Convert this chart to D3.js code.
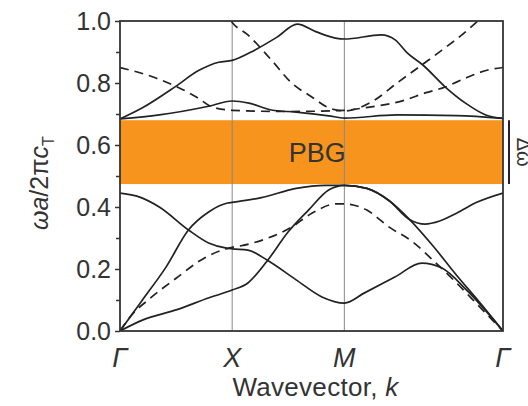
<!DOCTYPE html>
<html>
<head>
<meta charset="utf-8">
<script src="https://cdn.jsdelivr.net/npm/d3@7"></script>
<style>
    body { margin: 0; background: #fff; }
    text { font-family: "Liberation Sans", Arial, sans-serif; fill: #333; }
</style>
</head>
<body>
<div id="chart"></div>
<script>
// symmetry points along the path Γ → X → M → Γ
const kPoints = [0, 1, 2, 2 + Math.SQRT2];
const kLabels = ["Γ", "X", "M", "Γ"];

// y ticks
const majorTicks = [0, 0.2, 0.4, 0.6, 0.8, 1.0];
const minorTicks = [0.1, 0.3, 0.5, 0.7, 0.9];

// phononic band gap (normalized frequency)
const gapRange = [0.474, 0.68];

// solid bands, [k, ωa/2πc]
const bandLowest = [
    [0, 0], [0.2, 0.035], [0.5, 0.068], [0.8, 0.108], [1, 0.132],
    [1.14, 0.155], [1.31, 0.225], [1.5, 0.32], [1.68, 0.39], [1.86, 0.455], [2, 0.47],
    [2.2, 0.46], [2.4, 0.42], [2.58, 0.36], [2.8, 0.27], [3.0, 0.18], [3.2, 0.095], [3.414, 0]
];
const bandAcoustic2 = [
    [0, 0], [0.2, 0.10], [0.41, 0.206], [0.61, 0.326], [0.79, 0.384], [0.96, 0.413], [1, 0.415],
    [1.26, 0.43], [1.57, 0.46], [1.83, 0.47], [2, 0.47],
    [2.2, 0.46], [2.4, 0.42], [2.58, 0.36], [2.72, 0.345], [2.85, 0.355], [3.0, 0.38], [3.18, 0.415], [3.414, 0.445]
];
const bandOptical = [
    [0, 0.445], [0.15, 0.435], [0.35, 0.40], [0.61, 0.326], [0.79, 0.284], [0.94, 0.268], [1, 0.265],
    [1.14, 0.261], [1.31, 0.229], [1.57, 0.165], [1.8, 0.11], [2, 0.09],
    [2.18, 0.123], [2.45, 0.174], [2.69, 0.219], [2.87, 0.203], [3.09, 0.132], [3.414, 0]
];
const bandUpper1 = [
    [0, 0.684], [0.35, 0.697], [0.79, 0.725], [1, 0.742],
    [1.15, 0.735], [1.35, 0.713], [1.57, 0.706], [1.86, 0.694], [2, 0.687],
    [2.47, 0.697], [3.0, 0.695], [3.414, 0.686]
];
const bandUpper2 = [
    [0, 0.684], [0.2, 0.72], [0.5, 0.79], [0.7, 0.84], [0.88, 0.867], [1, 0.873],
    [1.2, 0.906], [1.4, 0.948], [1.58, 0.99], [1.75, 0.965], [1.92, 0.945], [2, 0.942],
    [2.33, 0.955], [2.45, 0.94], [2.56, 0.897], [2.7, 0.858], [2.9, 0.787], [3.08, 0.735], [3.26, 0.697], [3.414, 0.686]
];

// dashed bands
const dashedLow = [
    [0, 0], [0.1, 0.05], [0.25, 0.1], [0.5, 0.17], [0.75, 0.235], [1, 0.27],
    [1.08, 0.275], [1.32, 0.30], [1.53, 0.335], [1.71, 0.38], [1.93, 0.41], [2, 0.41],
    [2.2, 0.39], [2.4, 0.335], [2.6, 0.29], [2.8, 0.225], [3.0, 0.155], [3.2, 0.08], [3.414, 0]
];
const dashedUpperA = [
    [0, 0.85], [0.32, 0.816], [0.68, 0.755], [0.82, 0.723], [1, 0.712],
    [1.5, 0.708], [2, 0.712],
    [2.18, 0.72], [2.54, 0.745], [2.72, 0.768], [2.9, 0.787], [3.08, 0.816], [3.28, 0.842], [3.414, 0.85]
];
const dashedUpperB = [
    [0.92, 1.04], [1, 0.995],
    [1.14, 0.955], [1.35, 0.874], [1.53, 0.80], [1.71, 0.755], [1.86, 0.72], [2, 0.71],
    [2.27, 0.745], [2.47, 0.80], [2.69, 0.858], [2.87, 0.906], [3.08, 0.965], [3.19, 1.0], [3.414, 1.07]
];

const solidBands = [bandLowest, bandAcoustic2, bandOptical, bandUpper1, bandUpper2];
const dashedBands = [dashedLow, dashedUpperA, dashedUpperB];

let margin = { top: 21, right: 25, bottom: 75, left: 120 };
let width = 528 - margin.left - margin.right;
let height = 406 - margin.top - margin.bottom;

let svg = d3.select("#chart").append("svg")
    .attr("width", 528)
    .attr("height", 406);

let g = svg.append("g")
    .attr("transform", `translate(${margin.left}, ${margin.top})`);

let x = d3.scaleLinear()
    .domain([0, 2 + Math.SQRT2])
    .range([0, width]);

let y = d3.scaleLinear()
    .domain([0, 1])
    .range([height, 0]);

svg.append("defs").append("clipPath")
    .attr("id", "plotClip")
    .append("rect")
    .attr("width", width)
    .attr("height", height);

// band gap
g.append("rect")
    .attr("x", 0)
    .attr("y", y(gapRange[1]))
    .attr("width", width)
    .attr("height", y(gapRange[0]) - y(gapRange[1]))
    .attr("fill", "#f7941d");

g.append("text")
    .attr("x", width * 0.515)
    .attr("y", (y(gapRange[0]) + y(gapRange[1])) / 2 + 10)
    .attr("text-anchor", "middle")
    .style("font-size", "27px")
    .text("PBG");

// vertical lines at X and M
g.selectAll(".sym")
    .data(kPoints.slice(1, 3))
    .enter()
    .append("line")
    .attr("x1", d => x(d))
    .attr("x2", d => x(d))
    .attr("y1", 0)
    .attr("y2", height)
    .attr("stroke", "#888")
    .attr("stroke-width", 1);

let line = d3.line()
    .x(d => x(d[0]))
    .y(d => y(d[1]))
    .curve(d3.curveMonotoneX);

let curves = g.append("g").attr("clip-path", "url(#plotClip)");

curves.selectAll(".solid")
    .data(solidBands)
    .enter()
    .append("path")
    .attr("d", line)
    .attr("fill", "none")
    .attr("stroke", "#222")
    .attr("stroke-width", 1.7);

curves.selectAll(".dashed")
    .data(dashedBands)
    .enter()
    .append("path")
    .attr("d", line)
    .attr("fill", "none")
    .attr("stroke", "#222")
    .attr("stroke-width", 1.7)
    .attr("stroke-dasharray", "9,6");

// frame
g.append("rect")
    .attr("width", width)
    .attr("height", height)
    .attr("fill", "none")
    .attr("stroke", "#333")
    .attr("stroke-width", 1.8);

// y axis
let yAxis = g.append("g")
    .call(d3.axisLeft(y).tickValues(majorTicks).tickSize(5).tickPadding(4).tickFormat(d3.format(".1f")));
yAxis.select(".domain").remove();
yAxis.selectAll("line").attr("stroke", "#333").attr("stroke-width", 1.5);
yAxis.selectAll("text").style("font-size", "25px").attr("fill", "#333");

let yMinor = g.append("g")
    .call(d3.axisLeft(y).tickValues(minorTicks).tickSize(4).tickFormat(""));
yMinor.select(".domain").remove();
yMinor.selectAll("line").attr("stroke", "#333").attr("stroke-width", 1.5);

// symmetry point labels
g.selectAll(".klabel")
    .data(kPoints)
    .enter()
    .append("text")
    .attr("x", d => x(d))
    .attr("y", height + 36)
    .attr("text-anchor", "middle")
    .style("font-size", "27px")
    .style("font-style", "italic")
    .text((d, i) => kLabels[i]);

// x title
let xTitle = g.append("text")
    .attr("x", width / 2 + 4)
    .attr("y", height + 65)
    .attr("text-anchor", "middle")
    .style("font-size", "26px")
    .style("letter-spacing", "0.3px");
xTitle.append("tspan").text("Wavevector, ");
xTitle.append("tspan").style("font-style", "italic").text("k");

// y title
let yTitle = svg.append("text")
    .attr("transform", `translate(48, ${margin.top + y(0.477)}) rotate(-90)`)
    .attr("text-anchor", "middle")
    .style("font-size", "25px");
yTitle.append("tspan").style("font-style", "italic").text("ωa");
yTitle.append("tspan").text("/2π");
yTitle.append("tspan").style("font-style", "italic").text("c");
yTitle.append("tspan").attr("dy", 6).style("font-size", "16px").text("T");

// gap width marker on the right
let gapMark = svg.append("g")
    .attr("transform", `translate(${margin.left + width + 6}, ${margin.top})`);
gapMark.append("line")
    .attr("x1", 0)
    .attr("x2", 0)
    .attr("y1", y(gapRange[1]))
    .attr("y2", y(gapRange[0]))
    .attr("stroke", "#222")
    .attr("stroke-width", 2);
gapMark.append("text")
    .attr("transform", `translate(8, ${(y(gapRange[0]) + y(gapRange[1])) / 2}) rotate(90)`)
    .attr("text-anchor", "middle")
    .style("font-size", "20px")
    .text("Δω");
</script>
</body>
</html>
